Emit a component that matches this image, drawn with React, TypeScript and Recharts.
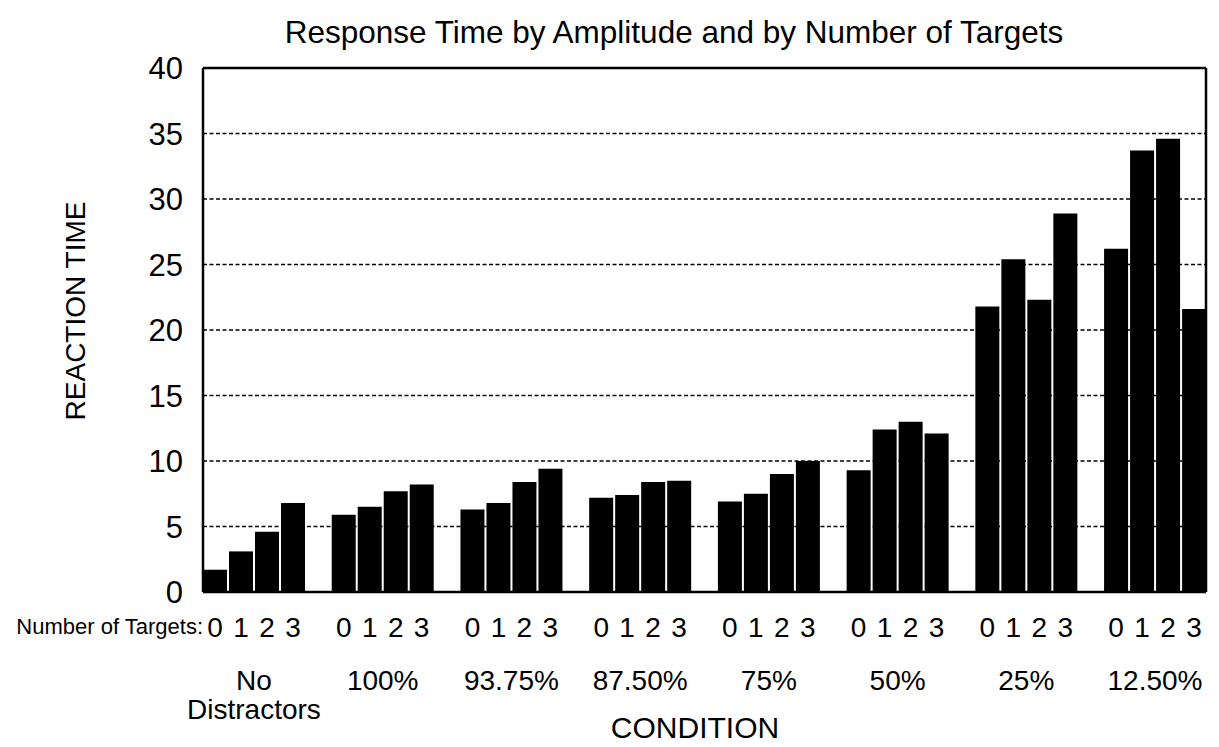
import React from 'react';
import { BarChart, Bar, XAxis, YAxis, CartesianGrid, Label } from 'recharts';

const conditions = ['No Distractors', '100%', '93.75%', '87.50%', '75%', '50%', '25%', '12.50%'];
const targets0 = [1.7, 5.9, 6.3, 7.2, 6.9, 9.3, 21.8, 26.2];
const targets1 = [3.1, 6.5, 6.8, 7.4, 7.5, 12.4, 25.4, 33.7];
const targets2 = [4.6, 7.7, 8.4, 8.4, 9.0, 13.0, 22.3, 34.6];
const targets3 = [6.8, 8.2, 9.4, 8.5, 10.0, 12.1, 28.9, 21.6];
const targetLabels = ['0', '1', '2', '3'];
const yTicks = [0, 5, 10, 15, 20, 25, 30, 35, 40];
const title = 'Response Time by Amplitude and by Number of Targets';
const yTitle = 'REACTION TIME';
const xTitle = 'CONDITION';
const targetsCaption = 'Number of Targets:';

const data = conditions.map((name, i) => ({
  name,
  t0: targets0[i],
  t1: targets1[i],
  t2: targets2[i],
  t3: targets3[i],
}));

const W = 1219;
const H = 747;
const PLOT_L = 203;
const PLOT_R = 1206;
const PLOT_T = 68;
const PLOT_B = 592;
const Y_AXIS_W = 120;
const X_AXIS_H = 150;
const OUTER_GAP = 13.4;
const BAR_GAP = 2;
const FONT = '"Liberation Sans", Arial, sans-serif';

const PLOT_W = PLOT_R - PLOT_L;
const BAND = (PLOT_W + 2 * OUTER_GAP) / conditions.length;
const BAR_STEP = (BAND - 2 * OUTER_GAP + BAR_GAP) / targetLabels.length;

const ConditionTick = (props: any) => {
  const { x, payload } = props;
  const idx = payload.index;
  const lines = String(payload.value).split(' ');
  return (
    <g fontFamily={FONT} fill="#000">
      {idx === 0 && (
        <text x={x - BAND / 2 + OUTER_GAP} y={PLOT_B + 42} textAnchor="end" fontSize={22} fill="#000">
          {targetsCaption}
        </text>
      )}
      {targetLabels.map((t, i) => (
        <text key={'d' + i} x={x + (i - 1.5) * BAR_STEP} y={PLOT_B + 45} textAnchor="middle" fontSize={28} fill="#000">
          {t}
        </text>
      ))}
      {lines.map((l, i) => (
        <text key={'l' + i} x={x} y={PLOT_B + 98 + i * 29} textAnchor="middle" fontSize={28} fill="#000">
          {l}
        </text>
      ))}
    </g>
  );
};

export default function App() {
  return (
    <div style={{ position: 'absolute', left: 0, top: 0, width: W, height: H, background: '#fff' }}>
      <BarChart
        width={W}
        height={H}
        data={data}
        margin={{ top: PLOT_T - 1, right: W - PLOT_R - 1, bottom: H - PLOT_B - X_AXIS_H, left: PLOT_L - Y_AXIS_W }}
        barCategoryGap={OUTER_GAP}
        barGap={BAR_GAP}
      >
        <CartesianGrid vertical={false} stroke="#000" strokeDasharray="4 2.5" strokeWidth={1.5} />
        <XAxis
          dataKey="name"
          interval={0}
          tick={<ConditionTick />}
          tickLine={false}
          tickSize={0}
          axisLine={{ stroke: '#000', strokeWidth: 2.5 }}
          height={X_AXIS_H}
          padding={{ left: -OUTER_GAP, right: -OUTER_GAP }}
        >
          <Label
            content={() => (
              <text x={695} y={738} textAnchor="middle" fontSize={30} fontFamily={FONT} fill="#000">
                {xTitle}
              </text>
            )}
          />
        </XAxis>
        <XAxis
          xAxisId="top"
          orientation="top"
          dataKey="name"
          tick={false}
          tickLine={false}
          height={1}
          axisLine={{ stroke: '#000', strokeWidth: 2.5 }}
        >
          <Label
            content={() => (
              <text x={674} y={43} textAnchor="middle" fontSize={31.5} fontFamily={FONT} fill="#000">
                {title}
              </text>
            )}
          />
        </XAxis>
        <YAxis
          domain={[0, 40]}
          ticks={yTicks}
          interval={0}
          width={Y_AXIS_W}
          tickLine={false}
          tickSize={0}
          tickMargin={20}
          axisLine={{ stroke: '#000', strokeWidth: 2.5 }}
          tick={{ fontSize: 31, fill: '#000', fontFamily: FONT }}
        >
          <Label
            content={() => (
              <text
                x={75}
                y={311}
                transform="rotate(-90, 75, 311)"
                textAnchor="middle"
                dominantBaseline="central"
                fontSize={28}
                fontFamily={FONT}
                fill="#000"
              >
                {yTitle}
              </text>
            )}
          />
        </YAxis>
        <YAxis
          yAxisId="right"
          orientation="right"
          domain={[0, 40]}
          width={1}
          tick={false}
          tickLine={false}
          axisLine={{ stroke: '#000', strokeWidth: 2.5 }}
        />
        <Bar dataKey="t0" fill="#000" isAnimationActive={false} />
        <Bar dataKey="t1" fill="#000" isAnimationActive={false} />
        <Bar dataKey="t2" fill="#000" isAnimationActive={false} />
        <Bar dataKey="t3" fill="#000" isAnimationActive={false} />
      </BarChart>
    </div>
  );
}
